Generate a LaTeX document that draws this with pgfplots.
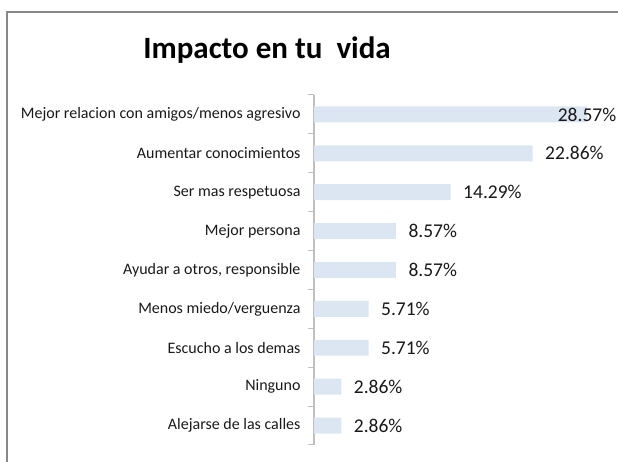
\documentclass[border=0pt]{standalone}
\usepackage{pgfplots}
\pgfplotsset{compat=1.18}
\usepackage{fontspec}
\setmainfont{Carlito}
\definecolor{barblue}{HTML}{DCE6F2}
\definecolor{axgray}{HTML}{BFBFBF}
\definecolor{framegray}{HTML}{888888}
\begin{document}
\begin{tikzpicture}[x=1pt,y=1pt]
\useasboundingbox (0,0) rectangle (618,462);
\clip (0,0) rectangle (618,462);
\draw[framegray, line width=1.5pt] (7,-40) rectangle (700,450);
\node[font=\bfseries\fontsize{31}{35}\selectfont] at (267,412) {Impacto en tu\ \ vida};
\begin{axis}[
    at={(314pt,17pt)}, anchor=south west,
    scale only axis,
    width=287pt, height=350pt,
    xbar, bar width=0.41,
    xmin=0, xmax=30,
    ymin=-0.5, ymax=8.5,
    axis x line=none,
    axis y line*=left,
    y axis line style={axgray, line width=1.5pt, -},
    ytick={0,...,8},
    yticklabels={Alejarse de las calles, Ninguno, Escucho a los demas, Menos miedo/verguenza, {Ayudar a otros, responsible}, Mejor persona, Ser mas respetuosa, Aumentar conocimientos, Mejor relacion con amigos/menos agresivo},
    major tick length=0pt,
    minor ytick={-0.5,0.5,...,8.5},
    minor tick length=6pt,
    tick align=outside,
    minor tick style={axgray, line width=1pt},
    yticklabel style={font=\fontsize{16}{18}\selectfont, text=black!90, xshift=-10pt},
    point meta=explicit symbolic,
    visualization depends on={\thisrow{dx} \as \dx},
    nodes near coords={\pgfplotspointmeta\%},
    nodes near coords style={font=\fontsize{19.5}{22}\selectfont, text=black!90, anchor=west},
    every node near coord/.append style={xshift=\dx pt},
]
\addplot[fill=barblue, draw=none] table[x=v, y=y, meta=lab] {
v y lab dx
28.57 8 28.57 -33
22.86 7 22.86 9
14.29 6 14.29 9
8.57 5 8.57 9
8.57 4 8.57 9
5.71 3 5.71 9
5.71 2 5.71 9
2.86 1 2.86 9
2.86 0 2.86 9
};
\end{axis}
\end{tikzpicture}
\end{document}
